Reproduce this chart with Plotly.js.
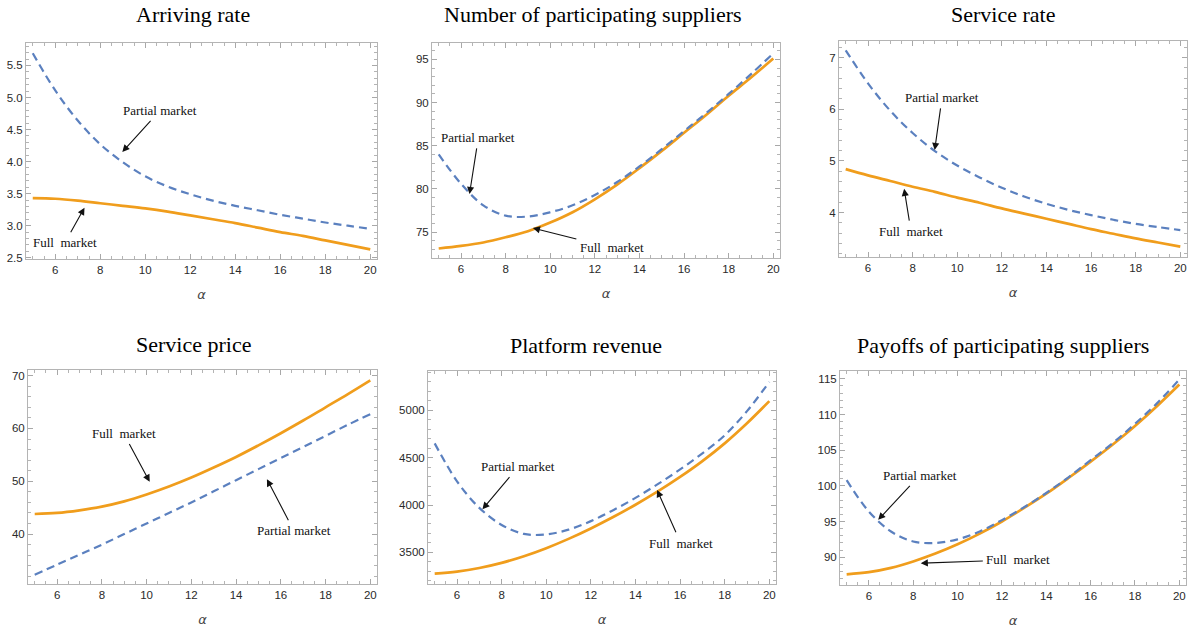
<!DOCTYPE html>
<html><head><meta charset="utf-8">
<script src="https://cdn.plot.ly/plotly-3.0.1.min.js"></script>
<style>html,body{margin:0;padding:0;background:#fff}#chart{width:1197px;height:631px}</style>
</head><body><div id="chart"></div>
<script>
// ---- data ----
const alpha = [5,6,7,8,9,10,11,12,13,14,15,16,17,18,19,20];
const panelTitles = ["Arriving rate","Number of participating suppliers","Service rate","Service price","Platform revenue","Payoffs of participating suppliers"];
const arrivingPartial = [5.69,5.11,4.64,4.27,3.99,3.77,3.61,3.49,3.39,3.31,3.24,3.17,3.11,3.05,3.00,2.95];
const arrivingFull    = [3.43,3.42,3.39,3.35,3.31,3.27,3.22,3.16,3.10,3.04,2.97,2.90,2.84,2.77,2.70,2.63];
const suppliersPartial = [84.0,80.6,78.1,76.9,76.8,77.3,78.1,79.3,80.8,82.6,84.6,86.7,88.8,91.0,93.3,95.7];
const suppliersFull    = [73.1,73.4,73.8,74.4,75.1,76.1,77.3,78.8,80.5,82.4,84.4,86.5,88.6,90.8,92.9,95.1];
const servRatePartial = [7.14,6.50,5.97,5.54,5.19,4.91,4.68,4.48,4.31,4.17,4.05,3.95,3.86,3.78,3.72,3.66];
const servRateFull    = [4.84,4.72,4.61,4.50,4.40,4.29,4.19,4.08,3.98,3.88,3.78,3.68,3.59,3.50,3.42,3.34];
const pricePartial = [32.3,34.2,36.1,38.0,40.0,42.0,44.0,46.0,48.1,50.2,52.3,54.4,56.5,58.6,60.7,62.7];
const priceFull    = [43.8,44.0,44.5,45.2,46.2,47.5,49.0,50.7,52.6,54.6,56.8,59.1,61.5,64.0,66.5,69.1];
const revenuePartial = [4650,4250,3970,3790,3695,3690,3740,3830,3945,4075,4220,4375,4545,4735,4990,5298];
const revenueFull    = [3276,3298,3336,3390,3460,3545,3643,3753,3873,4003,4143,4296,4463,4650,4862,5095];
const payoffPartial = [100.8,96.4,93.6,92.2,92.0,92.5,93.6,95.2,97.0,99.0,101.2,103.6,106.0,108.7,111.6,114.9];
const payoffFull    = [87.6,87.9,88.5,89.4,90.5,91.8,93.3,95.0,96.9,98.9,101.1,103.4,105.8,108.4,111.2,114.2];
const labelPartial = "Partial market";
const labelFull = "Full\u00a0 market";

// ---- layout helpers ----
const W = 1197, H = 631;
const BLUE = "#5b80bf", ORANGE = "#f09d1c";
const panels = [
  {p: arrivingPartial, f: arrivingFull, box:[26,377,43,259], yr:[2.48,5.85], dt:0.5, mdt:0.1, fmt:".1f", titlePos:[193,15],
   ann:[[labelPartial,8.98,4.15,10.66,4.80],[labelFull,7.3,3.28,6.42,2.73]]},
  {p: suppliersPartial, f: suppliersFull, box:[432,780,43,258], yr:[72.0,96.9], dt:5, mdt:1, fmt:"", titlePos:[593,15],
   ann:[[labelPartial,6.38,79.4,6.78,85.97],[labelFull,9.22,75.47,12.76,73.18]]},
  {p: servRatePartial, f: servRateFull, box:[839,1187,41,257], yr:[3.14,7.32], dt:1, mdt:0.2, fmt:"", titlePos:[1003,14],
   ann:[[labelPartial,8.99,5.21,9.32,6.23],[labelFull,7.62,4.46,7.93,3.63]]},
  {p: pricePartial, f: priceFull, box:[28,377,370,584], yr:[30.55,71.07], dt:10, mdt:2, fmt:"", titlePos:[193,344],
   ann:[[labelFull,10.14,49.9,8.97,59.1],[labelPartial,15.38,50.4,16.59,40.6]]},
  {p: revenuePartial, f: revenueFull, box:[428,776,371,584], yr:[3167,5413], dt:500, mdt:100, fmt:"d", titlePos:[586,345],
   ann:[[labelPartial,7.14,3954,8.75,4405],[labelFull,14.97,4158,16.03,3598]]},
  {p: payoffPartial, f: payoffFull, box:[840,1186,371,585], yr:[86.1,116.1], dt:5, mdt:1, fmt:"", titlePos:[1003,345],
   ann:[[labelPartial,6.42,95.23,8.29,101.45],[labelFull,8.34,89.16,12.74,89.63]]}
];

const data = [];
const layout = {
  width: W, height: H, margin:{l:0,r:0,t:0,b:0}, paper_bgcolor:"#fff", plot_bgcolor:"#fff",
  showlegend:false, annotations:[], font:{family:"Liberation Sans, Arial, sans-serif", size:11, color:"#333"}
};

panels.forEach((pn, i) => {
  const k = i === 0 ? "" : String(i+1);
  const xa = "x"+k, ya = "y"+k;
  data.push({x: alpha, y: pn.f, xaxis: xa, yaxis: ya, type:"scatter", mode:"lines", name:"Full market",
             line:{color:ORANGE, width:2.7, shape:"spline", smoothing:1}});
  data.push({x: alpha, y: pn.p, xaxis: xa, yaxis: ya, type:"scatter", mode:"lines", name:"Partial market",
             line:{color:BLUE, width:2.2, dash:"8px,5px", shape:"spline", smoothing:1}});
  const [x0,x1,y0,y1] = pn.box;
  const common = {showline:true, linecolor:"#b4b4b4", linewidth:1, mirror:"allticks", ticks:"inside",
                  ticklen:5, tickcolor:"#a8a8a8", showgrid:false, zeroline:false, automargin:false,
                  tickfont:{family:"Liberation Sans, Arial, sans-serif", size:11.5, color:"#2a2a2a"}};
  layout["xaxis"+k] = Object.assign({}, common, {
    domain:[x0/W, x1/W], range:[4.7,20.3], anchor: ya, dtick:2, tick0:0,
    minor:{ticks:"inside", ticklen:3, dtick:0.5, tick0:0, tickcolor:"#b4b4b4", showgrid:false},
    title:{text:"α", standoff:15, font:{family:"DejaVu Sans, sans-serif", size:13, color:"#444", style:"italic"}}
  });
  layout["yaxis"+k] = Object.assign({}, common, {
    domain:[1-y1/H, 1-y0/H], range: pn.yr, anchor: xa, dtick: pn.dt, tick0:0, tickformat: pn.fmt,
    minor:{ticks:"inside", ticklen:3, dtick:pn.mdt, tick0:0, tickcolor:"#b4b4b4", showgrid:false}
  });
  layout.annotations.push({text: panelTitles[i], xref:"paper", yref:"paper", x: pn.titlePos[0]/W, y: 1-pn.titlePos[1]/H,
    xanchor:"center", yanchor:"middle", showarrow:false, font:{family:"Liberation Serif, Times New Roman, serif", size:22, color:"#000"}});
  pn.ann.forEach(a => {
    layout.annotations.push({text:a[0], xref:xa, yref:ya, x:a[1], y:a[2], axref:xa, ayref:ya, ax:a[3], ay:a[4],
      showarrow:true, arrowhead:2, arrowsize:1.3, arrowwidth:1.1, arrowcolor:"#111", standoff:0, startstandoff:2,
      font:{family:"Liberation Serif, Times New Roman, serif", size:13, color:"#111"}});
  });
});

Plotly.newPlot("chart", data, layout, {displayModeBar:false, staticPlot:true});
</script>
</body></html>
